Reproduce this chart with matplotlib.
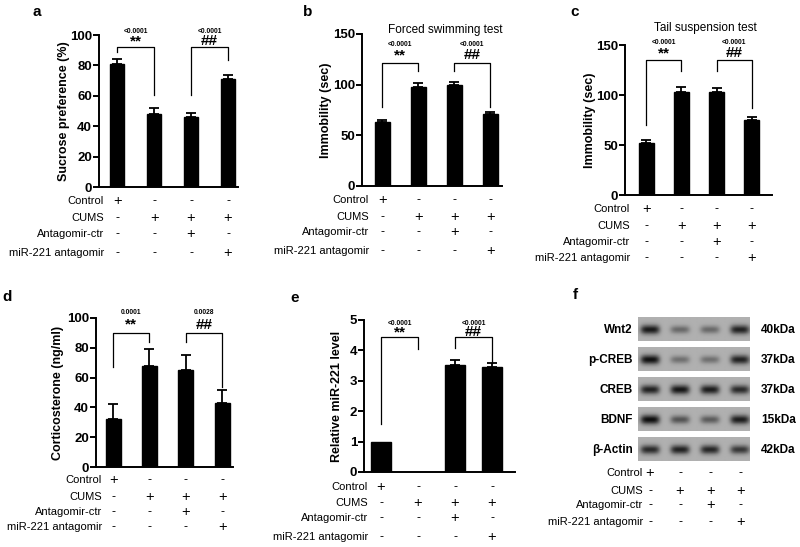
import numpy as np
import matplotlib
matplotlib.use("Agg")
import matplotlib.pyplot as plt
import matplotlib.transforms as mtransforms

plt.rcParams['font.family'] = ['Liberation Sans', 'DejaVu Sans']

W, H = 800, 547
fig = plt.figure(figsize=(8, 5.47), dpi=100)

# ---------------- data ----------------
groups = ["Control", "CUMS", "Antagomir-ctr", "miR-221 antagomir"]
design = [["+", "-", "-", "-"],
          ["-", "+", "+", "+"],
          ["-", "-", "+", "-"],
          ["-", "-", "-", "+"]]

sucrose_mean = [81, 48, 46, 71]
sucrose_err = [3, 4, 2.5, 3]

fst_mean = [63, 98, 100, 71]
fst_err = [2.5, 3.5, 3, 2]

tst_mean = [52, 103, 103, 75]
tst_err = [3, 5.5, 4, 3]

cort_mean = [32, 68, 65, 43]
cort_err = [10, 11, 10, 9]

mir_mean = [1.0, np.nan, 3.52, 3.45]
mir_err = [0.0, 0.0, 0.15, 0.15]

blot_proteins = ["Wnt2", "p-CREB", "CREB", "BDNF", "β-Actin"]
blot_kda = ["40kDa", "37kDa", "37kDa", "15kDa", "42kDa"]
blot_intensity = [[0.90, 0.42, 0.42, 0.85],
                  [0.95, 0.38, 0.38, 0.85],
                  [0.85, 0.92, 0.88, 0.80],
                  [0.97, 0.55, 0.50, 0.88],
                  [0.80, 0.85, 0.82, 0.72]]


def px_axes(l, t, r, b):
    return fig.add_axes([l / W, 1 - b / H, (r - l) / W, (b - t) / H])


def fy(y):
    return 1 - y / H


def fx(x):
    return x / W


def style_axes(ax, yticks, ylabel, ylim, xlim, labelx):
    ax.set_ylim(*ylim)
    ax.set_xlim(*xlim)
    for s in ["top", "right"]:
        ax.spines[s].set_visible(False)
    ax.spines["left"].set_linewidth(1.4)
    ax.spines["bottom"].set_linewidth(1.4)
    ax.set_yticks(yticks)
    ax.set_yticklabels([str(v) for v in yticks], fontsize=9.5, fontweight="bold")
    ax.set_xticks([])
    ax.tick_params(axis="y", length=4, width=1.4, pad=1)
    ax.set_ylabel(ylabel, fontsize=9, fontweight="bold")
    ax.yaxis.set_label_coords(labelx, 0.5)
    ax.patch.set_alpha(0)


def bars(ax, means, errs, width):
    x = np.arange(len(means))
    m = np.array(means, dtype=float)
    e = np.array(errs, dtype=float)
    ok = ~np.isnan(m)
    ax.bar(x[ok], m[ok], width=width, color="black", edgecolor="black", zorder=2)
    okerr = ok & (e > 0)
    ax.errorbar(x[okerr], m[okerr], yerr=[np.zeros(okerr.sum()), e[okerr]],
                fmt="none", ecolor="black", elinewidth=1.3, capsize=3.5,
                capthick=1.3, zorder=3)


def bracket(ax, x1, x2, ytop, yl, yr, star, ptxt, ystar, yp):
    ax.plot([x1, x1, x2, x2], [yl, ytop, ytop, yr], color="black", lw=0.9,
            clip_on=False, zorder=4)
    xm = (x1 + x2) / 2
    ax.text(xm, ystar, star, ha="center", va="center", fontsize=11,
            fontweight="bold", clip_on=False)
    ax.text(xm, yp, ptxt, ha="center", va="center", fontsize=4.8,
            fontweight="bold", clip_on=False)


def design_rows(ax, rows_y, label_right, xs=None, fontsize=8):
    tr = mtransforms.blended_transform_factory(ax.transData, fig.transFigure)
    if xs is None:
        xs = np.arange(4)
    for r, (name, signs) in enumerate(zip(groups, design)):
        y = fy(rows_y[r])
        fig.text(fx(label_right), y, name, ha="right", va="center",
                 fontsize=fontsize)
        for xi, s in zip(xs, signs):
            ax.text(xi, y, s, transform=tr, ha="center", va="center",
                    fontsize=fontsize + 2.5 if s == "+" else fontsize + 1)


# ---------------- panel a ----------------
axa = px_axes(99, 35, 238, 187)
bars(axa, sucrose_mean, sucrose_err, 0.38)
style_axes(axa, [0, 20, 40, 60, 80, 100], "Sucrose preference (%)",
           (0, 100), (-0.49, 3.27), -0.21)
bracket(axa, 0, 1, 92, 89, 60.5, "**", "<0.0001", 96, 102.5)
bracket(axa, 2, 3, 92, 60.5, 83.5, "##", "<0.0001", 96, 102.5)
design_rows(axa, [201, 218, 234, 253], 104)
fig.text(fx(37), fy(12), "a", fontsize=11, fontweight="bold", ha="center",
         va="center")

# ---------------- panel b ----------------
axb = px_axes(362, 34, 502, 186)
bars(axb, fst_mean, fst_err, 0.42)
style_axes(axb, [0, 50, 100, 150], "Immobility (sec)", (0, 150),
           (-0.56, 3.33), -0.215)
bracket(axb, 0, 1, 121, 78, 113, "**", "<0.0001", 129, 140)
bracket(axb, 2, 3, 121, 113, 78, "##", "<0.0001", 129, 140)
axb.text(1.75, 154, "Forced swimming test", ha="center", va="center",
         fontsize=8.5, clip_on=False)
design_rows(axb, [200, 217, 232, 251], 369)
fig.text(fx(308), fy(12), "b", fontsize=11, fontweight="bold", ha="center",
         va="center")

# ---------------- panel c ----------------
axc = px_axes(625, 45, 772, 195)
bars(axc, tst_mean, tst_err, 0.43)
style_axes(axc, [0, 50, 100, 150], "Immobility (sec)", (0, 150),
           (-0.6, 3.57), -0.2)
bracket(axc, 0, 1, 135, 70, 124, "**", "<0.0001", 142, 153)
bracket(axc, 2, 3, 135, 124, 87, "##", "<0.0001", 142, 153)
axc.text(1.67, 167, "Tail suspension test", ha="center", va="center",
         fontsize=8.5, clip_on=False)
design_rows(axc, [209, 226, 242, 258], 630)
fig.text(fx(575), fy(12), "c", fontsize=11, fontweight="bold", ha="center",
         va="center")

# ---------------- panel d ----------------
axd = px_axes(96, 318, 233, 467)
bars(axd, cort_mean, cort_err, 0.41)
style_axes(axd, [0, 20, 40, 60, 80, 100], "Corticosterone (ng/ml)",
           (0, 100), (-0.47, 3.3), -0.23)
bracket(axd, 0, 1, 90, 67, 84, "**", "0.0001", 95.5, 104)
bracket(axd, 2, 3, 90, 84, 54, "##", "0.0028", 95.5, 104)
design_rows(axd, [480, 497, 512, 527], 102)
fig.text(fx(7), fy(297), "d", fontsize=11, fontweight="bold", ha="center",
         va="center")

# ---------------- panel e ----------------
axe = px_axes(364, 320, 515, 472)
bars(axe, mir_mean, mir_err, 0.55)
style_axes(axe, [0, 1, 2, 3, 4, 5], "Relative miR-221 level", (0, 5),
           (-0.46, 3.62), -0.14)
bracket(axe, 0, 1, 4.45, 1.57, 4.03, "**", "<0.0001", 4.6, 4.9)
bracket(axe, 2, 3, 4.45, 4.07, 3.6, "##", "<0.0001", 4.6, 4.9)
design_rows(axe, [487, 503, 518, 537], 368)
fig.text(fx(295), fy(298), "e", fontsize=11, fontweight="bold", ha="center",
         va="center")

# ---------------- panel f (western blot) ----------------
axf = px_axes(638, 317, 750, 461)
axf.axis("off")
nx, ny = 240, 40
xs = np.linspace(-0.4, 3.33, nx)
for r, (prot, kda, inten) in enumerate(zip(blot_proteins, blot_kda,
                                            blot_intensity)):
    yy = np.linspace(0, 0.8, ny)
    X, Y = np.meshgrid(xs, yy)
    img = np.full_like(X, 0.69)
    for lane, d in enumerate(inten):
        hx = np.exp(-((X - lane) / 0.32) ** 4)
        vy = np.exp(-((Y - 0.42) / (0.11 + 0.05 * d)) ** 2)
        img = img - d * 0.66 * hx * vy
    img = np.clip(img, 0, 1)
    axf.imshow(img, cmap="gray", vmin=0, vmax=1, aspect="auto",
               extent=[-0.4, 3.33, r + 0.8, r], interpolation="bilinear")
    yc = fy(317 + 30 * r + 13)
    fig.text(fx(633), yc, prot, ha="right", va="center", fontsize=8.5,
             fontweight="bold")
    fig.text(fx(761), yc, kda, ha="left", va="center", fontsize=8.5,
             fontweight="bold")
axf.set_xlim(-0.4, 3.33)
axf.set_ylim(4.8, 0)
design_rows(axf, [473, 491, 505, 522], 643)
fig.text(fx(575), fy(295), "f", fontsize=11, fontweight="bold", ha="center",
         va="center")

fig.savefig("out.png", dpi=100)
